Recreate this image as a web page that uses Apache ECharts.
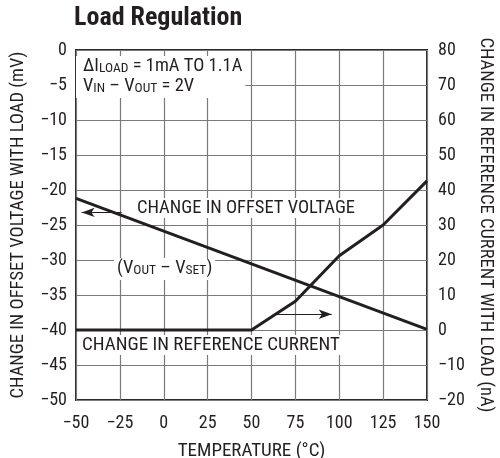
<!DOCTYPE html>
<html><head><meta charset="utf-8">
<script src="https://cdn.jsdelivr.net/npm/echarts@6/dist/echarts.min.js"></script>
<style>html,body{margin:0;padding:0;background:#fff}#c{width:500px;height:458px}</style>
</head><body><div id="c"></div>
<script>
// ---- data ----
const offsetTemps = [-50, 150];                 // °C
const offsetVoltage = [-21.2, -39.9];           // mV (left axis)
const refTemps = [-50, 50, 75, 100, 125, 150];  // °C
const refCurrent = [0, 0, 8.2, 21.2, 30, 42.6]; // nA (right axis)
const xTicks = [-50, -25, 0, 25, 50, 75, 100, 125, 150];
const leftTicks = [0, -5, -10, -15, -20, -25, -30, -35, -40, -45, -50];
const rightTicks = [80, 70, 60, 50, 40, 30, 20, 10, 0, -10, -20];
// annotation arrows (data coordinates)
const offsetArrow = [[-24, -23.2], [-46.8, -23.2]];   // left axis
const refArrow = [[64.4, 4.5], [95.7, 4.5]];         // right axis

const FONT = '"Roboto Condensed", "Liberation Sans Narrow", sans-serif';
const INK = '#231f20';
const minus = v => String(v).replace('-', '\u2212');

const chart = echarts.init(document.getElementById('c'), null, {renderer: 'canvas'});

const sub = {fontSize: 13.5, lineHeight: 12, verticalAlign: 'bottom', fontFamily: FONT, fill: INK};
const main = {fontSize: 18.5, lineHeight: 20, verticalAlign: 'middle', fontFamily: FONT, fill: INK};

chart.setOption({
  animation: false,
  backgroundColor: '#fff',
  title: {
    text: 'Load Regulation', left: 74, top: 5, padding: 0,
    textStyle: {fontSize: 26, fontWeight: 'bold', fontFamily: FONT, color: INK}
  },
  grid: {left: 76, right: 73, top: 50, bottom: 58, outerBoundsMode: 'none', containLabel: false,
    show: true, borderColor: '#2a2a2a', borderWidth: 2, backgroundColor: 'transparent'},
  xAxis: {
    type: 'value', min: xTicks[0], max: xTicks[xTicks.length - 1], interval: 25,
    name: 'TEMPERATURE (°C)', nameLocation: 'middle', nameGap: 42,
    nameTextStyle: {fontSize: 19, fontFamily: FONT, color: INK},
    axisLine: {show: false}, axisTick: {show: false},
    axisLabel: {fontSize: 18, fontFamily: FONT, color: INK, margin: 14, formatter: minus},
    splitLine: {show: true, lineStyle: {color: '#7a7a7a', width: 1.2}}
  },
  yAxis: [{
    type: 'value', min: leftTicks[leftTicks.length - 1], max: leftTicks[0], interval: 5,
    name: 'CHANGE IN OFFSET VOLTAGE WITH LOAD (mV)', nameLocation: 'middle', nameGap: 48,
    nameTextStyle: {fontSize: 18.5, fontFamily: FONT, color: INK},
    axisLine: {show: false}, axisTick: {show: false},
    axisLabel: {fontSize: 18, fontFamily: FONT, color: INK, margin: 9, formatter: minus},
    splitLine: {show: true, lineStyle: {color: '#7a7a7a', width: 1.2}}
  }, {
    type: 'value', position: 'right', min: rightTicks[rightTicks.length - 1], max: rightTicks[0], interval: 10,
    name: 'CHANGE IN REFERENCE CURRENT WITH LOAD (nA)', nameLocation: 'middle', nameGap: 48, nameRotate: -90,
    nameTextStyle: {fontSize: 18.5, fontFamily: FONT, color: INK},
    axisLine: {show: false}, axisTick: {show: false},
    axisLabel: {fontSize: 18, fontFamily: FONT, color: INK, margin: 11, formatter: minus},
    splitLine: {show: false}
  }],
  series: [{
    name: 'Change in Offset Voltage', type: 'line', yAxisIndex: 0, symbol: 'none',
    data: offsetTemps.map((t, i) => [t, offsetVoltage[i]]),
    lineStyle: {color: INK, width: 3}, z: 3,
    markLine: {
      silent: true, symbol: ['none', 'arrow'], symbolSize: [7, 13],
      lineStyle: {color: INK, width: 1.2, type: 'solid'}, label: {show: false},
      data: [[{coord: offsetArrow[0]}, {coord: offsetArrow[1]}]]
    }
  }, {
    name: 'Change in Reference Current', type: 'line', yAxisIndex: 1, symbol: 'none',
    data: refTemps.map((t, i) => [t, refCurrent[i]]),
    lineStyle: {color: INK, width: 3}, z: 3,
    markLine: {
      silent: true, symbol: ['none', 'arrow'], symbolSize: [7, 13],
      lineStyle: {color: INK, width: 1.2, type: 'solid'}, label: {show: false},
      data: [[{coord: refArrow[0]}, {coord: refArrow[1]}]]
    }
  }],
  graphic: [{
    type: 'text', x: 76, y: 56, z: 10,
    style: {
      text: '{m|\u0394I}{s|LOAD}{m| = 1mA TO 1.1A}\n{m|V}{s|IN}{m| \u2013 V}{s|OUT}{m| = 2V}',
      rich: {m: main, s: sub}, backgroundColor: '#fff', padding: [0, 3, 2, 7]
    }
  }, {
    type: 'text', x: 134, y: 198, z: 10,
    style: {text: 'CHANGE IN OFFSET VOLTAGE', fontSize: 18.5, lineHeight: 20, fontFamily: FONT, fill: INK,
      backgroundColor: '#fff', padding: [0, 3, 0, 3]}
  }, {
    type: 'text', x: 114, y: 258, z: 10,
    style: {text: '{m|(V}{s|OUT}{m| \u2013 V}{s|SET}{m|)}', rich: {m: main, s: sub},
      backgroundColor: '#fff', padding: [0, 3, 2, 3]}
  }, {
    type: 'text', x: 79, y: 335, z: 10,
    style: {text: 'CHANGE IN REFERENCE CURRENT', fontSize: 19, lineHeight: 20, fontFamily: FONT, fill: INK,
      backgroundColor: '#fff', padding: [0, 3, 0, 3]}
  }]
});
</script></body></html>
